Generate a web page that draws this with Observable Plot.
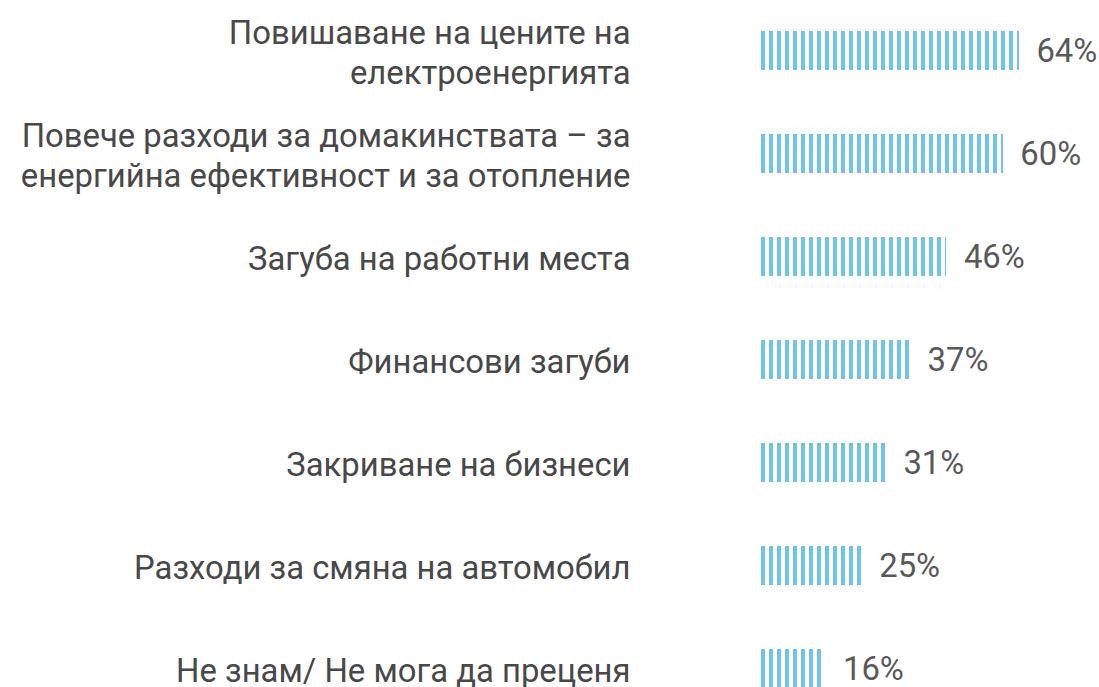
<!DOCTYPE html>
<html>
<head>
<meta charset="utf-8">
<script src="https://cdn.jsdelivr.net/npm/d3@7"></script>
<script src="https://cdn.jsdelivr.net/npm/@observablehq/plot@0.6"></script>
<style>
  html, body { margin: 0; padding: 0; background: #fff; }
  #chart svg { display: block; }
</style>
</head>
<body>
<div id="chart"></div>
<script>
const categories = [
  "Повишаване на цените на\nелектроенергията",
  "Повече разходи за домакинствата – за\nенергийна ефективност и за отопление",
  "Загуба на работни места",
  "Финансови загуби",
  "Закриване на бизнеси",
  "Разходи за смяна на автомобил",
  "Не знам/ Не мога да преценя"
];
const values = [64, 60, 46, 37, 31, 25, 16];
const valueLabels = ["64%", "60%", "46%", "37%", "31%", "25%", "16%"];

const data = categories.map((c, i) => ({category: c, value: values[i], label: valueLabels[i]}));

const W = 1099, H = 687, ML = 761;

const chart = Plot.plot({
  width: W,
  height: H,
  marginLeft: ML,
  marginRight: 0,
  marginTop: 0,
  marginBottom: 0,
  style: {fontFamily: "Roboto, 'Liberation Sans', sans-serif", background: "#fff"},
  x: {domain: [0, (W - ML) / 4.03], axis: null},
  y: {domain: categories, range: [-1.6, 720.6], paddingInner: 0.62, paddingOuter: 0.31, axis: null},
  marks: [
    Plot.barX(data, {x: "value", y: "category", fill: "url(#stripes)", className: "bars"}),
    Plot.text(data, {
      y: "category", text: "category", frameAnchor: "left", dx: -131,
      textAnchor: "end", fontSize: 34, lineHeight: 1.2, fill: "#484848",
      className: "cat-label"
    }),
    Plot.text(data, {
      x: "value", y: "category", text: "label", dx: 17,
      textAnchor: "start", fontSize: 34, fill: "#595959",
      className: "val-label"
    })
  ]
});

const svg = d3.select(chart);
// find any translation applied to the bar group so stripes land on whole pixels
let off = 0;
const bg = chart.querySelector("g.bars");
if (bg) {
  const m = (bg.getAttribute("transform") || "").match(/translate\(\s*([-\d.]+)/);
  if (m) off = +m[1];
}
svg.insert("defs", ":first-child").html(
  '<pattern id="stripes" patternUnits="userSpaceOnUse" x="' + (ML - off) + '" y="0" width="8" height="8">' +
  '<rect x="0" y="0" width="4" height="8" fill="#6ec4e8"></rect></pattern>'
);
svg.selectAll("g.bars rect").attr("shape-rendering", "crispEdges");
svg.selectAll("g.cat-label text, g.val-label text").each(function() {
  const t = this.getAttribute("transform") || "";
  this.setAttribute("transform", t + " scale(0.965,1)");
});

document.getElementById("chart").appendChild(chart);
</script>
</body>
</html>
